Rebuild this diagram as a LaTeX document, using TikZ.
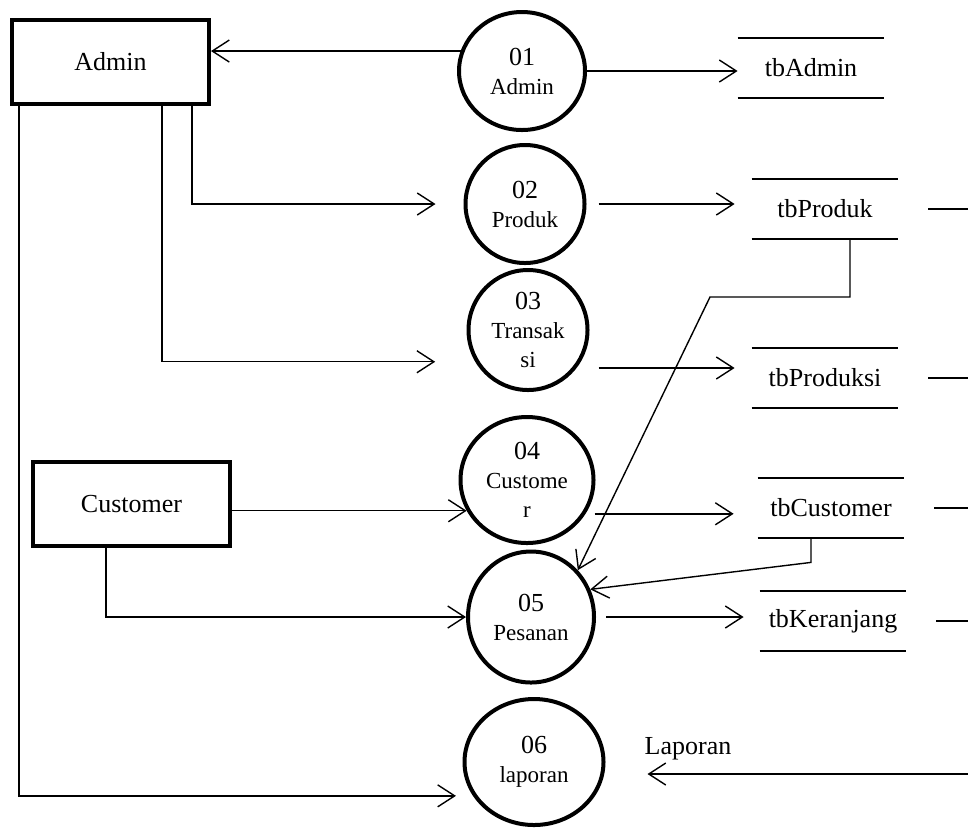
\documentclass[tikz,border=0pt]{standalone}
\usepackage{fontspec}
\setmainfont{Liberation Serif}
\usetikzlibrary{shapes.geometric, arrows.meta, calc}
\tikzstyle{flow} = [line width=0.7pt, -{Straight Barb[length=8.5pt,width=11pt]}]
\tikzstyle{entity} = [rectangle, draw, line width=2pt, minimum width=98.5pt, minimum height=42pt, font=\fontsize{13}{15}\selectfont]
\tikzstyle{proc} = [ellipse, draw, line width=2pt, inner sep=0pt, align=center, font=\fontsize{11.5}{14.5}\selectfont]
\tikzstyle{store} = [inner sep=0pt, minimum width=73pt, minimum height=30pt, font=\fontsize{13}{15}\selectfont]
\newcommand{\pnum}[1]{{\fontsize{13}{14.5}\selectfont #1}}

\begin{document}
\begin{tikzpicture}[x=0.5pt, y=-0.5pt]
    \useasboundingbox (0,0) rectangle (968,827);

    % External entities
    \node[entity] (admin) at (110.5,62) {Admin};
    \node[entity] (customer) at (131.5,504) {Customer};

    % Processes
    \node[proc, minimum width=63pt, minimum height=59pt] (p1) at (522,71) {\pnum{01}\\Admin};
    \node[proc, minimum width=59.5pt, minimum height=59pt] (p2) at (525,204) {\pnum{02}\\Produk};
    \node[proc, minimum width=59.5pt, minimum height=60pt] (p3) at (528,330) {\pnum{03}\\Transak\\si};
    \node[proc, minimum width=66.5pt, minimum height=63pt] (p4) at (527,480) {\pnum{04}\\Custome\\r};
    \node[proc, minimum width=63pt, minimum height=65.5pt] (p5) at (531,617) {\pnum{05}\\Pesanan};
    \node[proc, minimum width=69.5pt, minimum height=63pt] (p6) at (534,762) {\pnum{06}\\laporan};

    % Data stores
    \node[store] (sAdmin) at (811,68) {tbAdmin};
    \node[store] (sProduk) at (825,209) {tbProduk};
    \node[store] (sProduksi) at (825,378) {tbProduksi};
    \node[store] (sCustomer) at (831,508) {tbCustomer};
    \node[store] (sKeranjang) at (833,621) {tbKeranjang};
    \foreach \s in {sAdmin, sProduk, sProduksi, sCustomer, sKeranjang} {
        \draw[line width=1pt] (\s.north west) -- (\s.north east);
        \draw[line width=1pt] (\s.south west) -- (\s.south east);
    }

    % Stubs to the right edge
    \coordinate (edge) at (968,0);
    \foreach \s in {sProduk, sProduksi, sCustomer, sKeranjang}
        \draw[line width=1pt] ([xshift=15pt]\s.east) -- (\s.east -| edge);

    % Admin flows
    \draw[flow] (p1.162) -- (p1.162 -| admin.east);
    \draw[flow] (p1.east) -- (p1.east -| sAdmin.west);
    \draw[flow, shorten >=14pt] (admin.south -| 192,0) |- (p2.west);
    \draw[flow, shorten >=20pt] (admin.south -| 162,0) |- (p3.211);
    \draw[flow, shorten >=8.5pt] (admin.south -| 19,0) |- (p6.209);

    % Customer flows
    \draw[flow] (customer.east |- p4.207) -- (p4.207);
    \draw[flow] (customer.south -| 106,0) |- (p5.west);

    % Process to store flows
    \draw[flow, shorten <=6pt, shorten >=8.5pt] (p2.east) -- (p2.east -| sProduk.west);
    \draw[flow, shorten <=11pt, shorten >=8.5pt] (p3.-38) -- (p3.-38 -| sProduksi.west);
    \draw[flow, shorten <=4.5pt, shorten >=12pt] (p4.-30) -- (p4.-30 -| sCustomer.west);
    \draw[flow, shorten <=5pt, shorten >=8pt] (p5.east) -- (p5.east -| sKeranjang.west);

    % Store to process flows
    \coordinate (bendP) at (710,297);
    \draw[flow] (sProduk.south -| 850,0) |- (bendP) -- (p5.45);
    \draw[flow] (sCustomer.south -| 811,0) -- ++(0,24) -- (p5.25);

    % Report
    \coordinate (rLap) at (968,774);
    \draw[flow, shorten >=21pt] (rLap) -- (rLap -| p6.east);
    \node[font=\fontsize{13}{15}\selectfont] (lLap) at (688,749) {Laporan};
\end{tikzpicture}
\end{document}
